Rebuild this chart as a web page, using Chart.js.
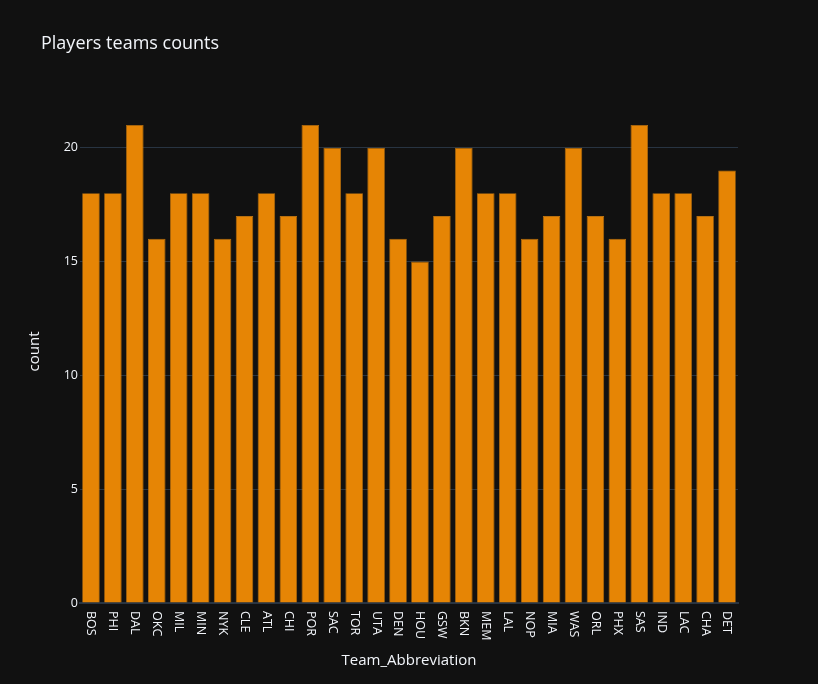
<!DOCTYPE html>
<html>
<head>
<meta charset="utf-8">
<script src="https://cdn.jsdelivr.net/npm/chart.js@4.4.0/dist/chart.umd.min.js"></script>
<style>
  html, body { margin: 0; padding: 0; background: #111111; }
  #wrap { width: 818px; height: 684px; }
</style>
</head>
<body>
<div id="wrap"><canvas id="teamChart"></canvas></div>
<script>
const teams = ['BOS', 'PHI', 'DAL', 'OKC', 'MIL', 'MIN', 'NYK', 'CLE', 'ATL', 'CHI',
    'POR', 'SAC', 'TOR', 'UTA', 'DEN', 'HOU', 'GSW', 'BKN', 'MEM', 'LAL',
    'NOP', 'MIA', 'WAS', 'ORL', 'PHX', 'SAS', 'IND', 'LAC', 'CHA', 'DET'];
const counts = [18, 18, 21, 16, 18, 18, 16, 17, 18, 17,
    21, 20, 18, 20, 16, 15, 17, 20, 18, 18,
    16, 17, 20, 17, 16, 21, 18, 18, 17, 19];
const yTicks = [0, 5, 10, 15, 20];

const FONT = '"Open Sans", verdana, arial, sans-serif';
const TEXT = '#f2f5fa';

// plotly-ish text: title, axis titles, rotated category labels
const plotlyText = {
    id: 'plotlyText',
    afterDraw(chart) {
        const { ctx, chartArea, scales } = chart;
        ctx.save();
        ctx.fillStyle = TEXT;

        ctx.font = `18px ${FONT}`;
        ctx.textAlign = 'left';
        ctx.textBaseline = 'middle';
        ctx.fillText('Players teams counts', 41, 44);

        ctx.font = `12.5px ${FONT}`;
        teams.forEach((t, i) => {
            const x = scales.x.getPixelForValue(i);
            ctx.save();
            ctx.translate(x, chartArea.bottom + 8);
            ctx.rotate(Math.PI / 2);
            ctx.textAlign = 'left';
            ctx.textBaseline = 'middle';
            ctx.fillText(t, 0, 0);
            ctx.restore();
        });

        ctx.font = `15px ${FONT}`;
        ctx.textAlign = 'center';
        ctx.textBaseline = 'middle';
        ctx.fillText('Team_Abbreviation', (chartArea.left + chartArea.right) / 2, 661);

        ctx.save();
        ctx.translate(35, (chartArea.top + chartArea.bottom) / 2);
        ctx.rotate(-Math.PI / 2);
        ctx.fillText('count', 0, 0);
        ctx.restore();

        ctx.restore();
    },
};

new Chart(document.querySelector('#teamChart'), {
    type: 'bar',
    data: {
        labels: teams,
        datasets: [{
            label: 'count',
            data: counts,
            backgroundColor: '#e68505',
            borderColor: '#b8700f',
            borderWidth: 0.8,
            categoryPercentage: 1,
            barPercentage: 0.8,
        }],
    },
    options: {
        responsive: true,
        maintainAspectRatio: false,
        animation: false,
        devicePixelRatio: 1,
        layout: { padding: { left: 0, right: 80, top: 100, bottom: 0 } },
        scales: {
            x: {
                ticks: { display: false },
                grid: { display: false, drawTicks: false },
                border: { display: true, color: '#283442', width: 2 },
                afterFit(scale) { scale.height = 81; },
            },
            y: {
                min: 0,
                max: 22.1,
                afterBuildTicks(scale) { scale.ticks = yTicks.map((v) => ({ value: v })); },
                ticks: { color: TEXT, font: { family: FONT, size: 12.5 }, padding: 2 },
                grid: { color: '#283442', lineWidth: 1, drawTicks: false },
                border: { display: false },
                afterFit(scale) { scale.width = 80; },
            },
        },
        plugins: {
            legend: { display: false },
            tooltip: { enabled: false },
        },
    },
    plugins: [plotlyText],
});
</script>
</body>
</html>
